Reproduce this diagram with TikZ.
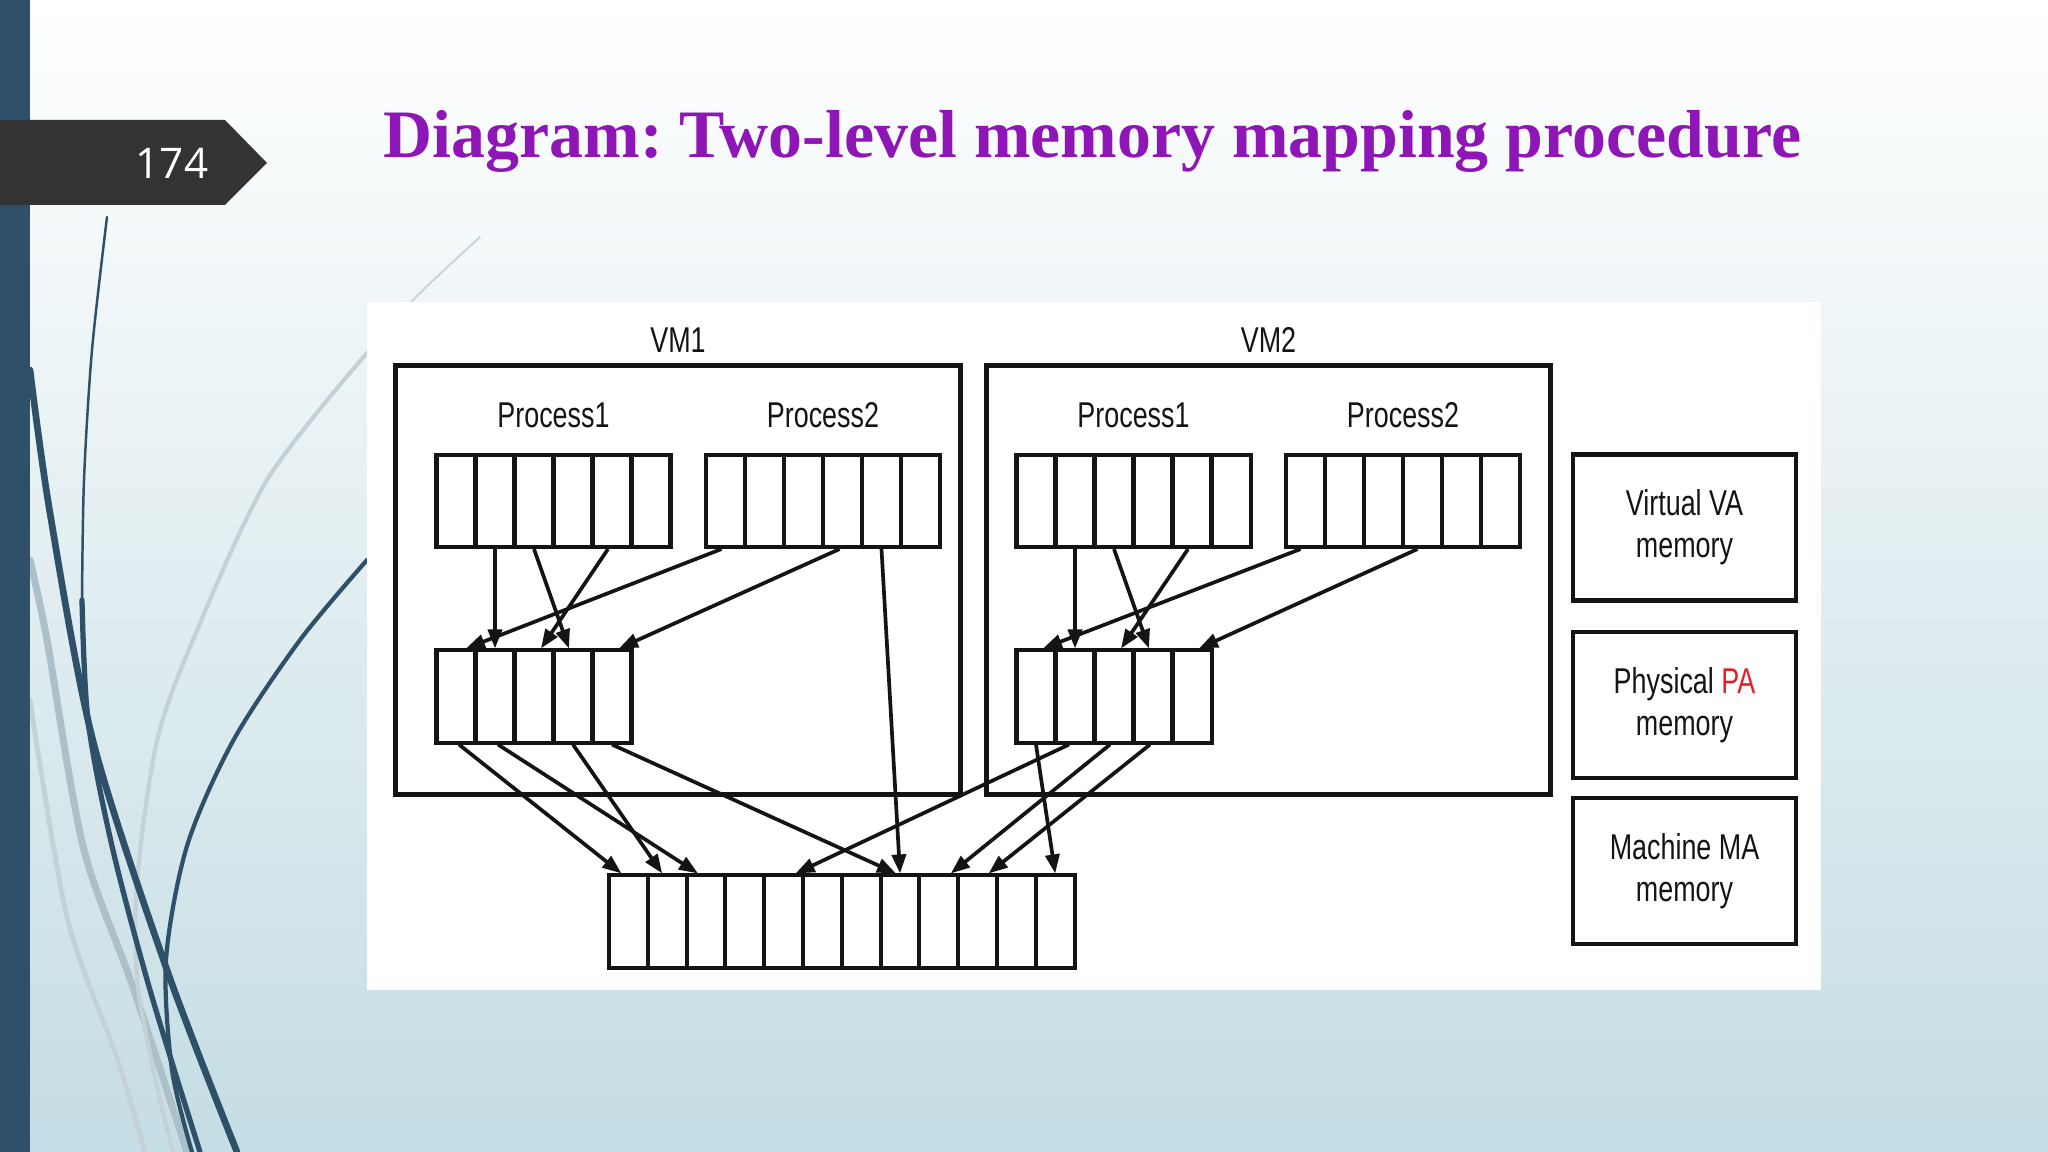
\documentclass[tikz,border=0pt]{standalone}
\usepackage{fontspec}
\usetikzlibrary{arrows.meta,calc}
\newfontfamily\diagfont{Liberation Sans}[FakeStretch=0.75]
\newfontfamily\titlefont{Liberation Serif}
\newfontfamily\numfont{Open Sans}
\frenchspacing
\definecolor{barblue}{RGB}{46,80,104}
\definecolor{tabgray}{RGB}{51,51,51}
\definecolor{titlepurple}{RGB}{142,22,182}
\definecolor{bgblue}{RGB}{197,221,228}
\definecolor{bgmid}{RGB}{226,237,241}
\definecolor{wispgray}{RGB}{172,192,201}
\definecolor{wisplight}{RGB}{196,210,216}
\definecolor{inkblack}{RGB}{20,20,20}
\definecolor{pared}{RGB}{230,30,40}
\tikzset{
  cell/.style={draw=inkblack, line width=1.15pt, minimum width=0.39cm, minimum height=0.92cm, inner sep=0pt},
  mcell/.style={cell, minimum width=0.388cm},
  vmbox/.style={draw=inkblack, line width=1.4pt, minimum width=5.64cm, minimum height=4.28cm, inner sep=0pt},
  keybox/.style={draw=inkblack, line width=1.3pt, minimum width=2.23cm, minimum height=1.46cm, align=center, font=\diagfont\fontsize{10.2}{12}\selectfont, text=inkblack},
  lbl/.style={font=\diagfont\fontsize{10.2}{12}\selectfont, text=inkblack, inner sep=0pt},
  maparrow/.style={draw=inkblack, line width=1.05pt, -{Triangle[length=5.4pt,width=4pt]}},
  wisp/.style={line cap=round}
}
\begin{document}
\begin{tikzpicture}[x=0.01cm,y=-0.01cm]
\useasboundingbox (0,0) rectangle (2048,1152);
% slide background
\shade[top color=white, middle color=bgmid, bottom color=bgblue] (0,0) rectangle (2048,1152);

% wisps
\draw[wisp, wisplight, line width=1.4pt] plot[smooth] coordinates {(30,700) (67,917) (117,1058) (145,1152)};
\draw[wisp, wispgray, line width=2pt] plot[smooth] coordinates {(30,560) (47,640) (83,846) (133,987) (187,1152)};
\draw[wisp, wisplight, line width=0.5pt] plot[smooth] coordinates {(480,237) (415,298) (367,353)};
\draw[wisp, wisplight, line width=1.2pt] plot[smooth] coordinates {(367,353) (267,480) (193,640) (157,741) (137,882) (138,987) (160,1100) (173,1152)};
\draw[wisp, barblue, line width=0.7pt] plot[smooth] coordinates {(107,217) (92,350) (84,480) (82,600)};
\draw[wisp, barblue, line width=1.5pt] plot[smooth] coordinates {(82,600) (88,720) (112,846) (150,990) (200,1152)};
\draw[wisp, barblue, line width=1.9pt] plot[smooth] coordinates {(30,370) (50,513) (93,741) (167,970) (237,1152)};
\draw[wisp, barblue, line width=1.2pt] plot[smooth] coordinates {(367,560) (300,640) (233,741) (187,846) (166,960) (172,1070) (192,1152)};

% side bar and page tab
\fill[barblue] (0,0) rectangle (30,1152);
\fill[tabgray] (0,120) -- (225,120) -- (267,163) -- (225,205) -- (0,205) -- cycle;
\node[font=\numfont\fontsize{12}{14}\selectfont, text=white, inner sep=0pt] (pagenum) at (172,163) {174};

% title
\node[anchor=base west, inner sep=0pt, font=\titlefont\bfseries\fontsize{19.3}{23}\selectfont, text=titlepurple] (title) at (383,158) {Diagram: Two-level memory mapping procedure};

% diagram panel
\fill[white] (367,302) rectangle (1821,990);

% virtual machines
\node[vmbox] (vm1) at (678,580) {};
\node[vmbox] (vm2) at (1268.5,580) {};
\node[lbl] (vm1lab) at (678,340) {VM1};
\node[lbl] (vm2lab) at (1268.5,340) {VM2};
\node[lbl] (vm1p1) at (553.5,415) {Process1};
\node[lbl] (vm1p2) at (823,415) {Process2};
\node[lbl] (vm2p1) at (1133.5,415) {Process1};
\node[lbl] (vm2p2) at (1403,415) {Process2};

% memory cells
\foreach \i in {1,...,6} {
  \node[cell] (v1a\i) at ({417+39*\i},501) {};
  \node[cell] (v1b\i) at ({686.5+39*\i},501) {};
  \node[cell] (v2a\i) at ({997+39*\i},501) {};
  \node[cell] (v2b\i) at ({1266.5+39*\i},501) {};
}
\foreach \i in {1,...,5} {
  \node[cell] (p1c\i) at ({417+39*\i},696.5) {};
  \node[cell] (p2c\i) at ({997+39*\i},696.5) {};
}
\foreach \i in {1,...,12}
  \node[mcell] (m\i) at ({589.6+38.8*\i},921.5) {};

% key
\node[keybox] (vakey) at (1684.5,527.5) {Virtual VA\\memory};
\node[keybox] (pakey) at (1684.5,705) {Physical \textcolor{pared}{PA}\\memory};
\node[keybox] (makey) at (1684.5,871) {Machine MA\\memory};

% VM1: virtual -> physical
\draw[maparrow] (v1a2.south) -- (p1c2.north);
\draw[maparrow] (v1a3.south) -- ($(p1c4.north)+(-4,0)$);
\draw[maparrow] ($(v1a5.south)+(-4,0)$) -- ($(p1c3.north)+(7,0)$);
\draw[maparrow] ($(v1b1.south)+(-4,0)$) -- ($(p1c1.north)+(10,0)$);
\draw[maparrow] ($(v1b4.south)+(-3,0)$) -- ($(p1c5.north)+(7,0)$);
\draw[maparrow] (v1b5.south) -- (m8.north);
% VM1: physical -> machine
\draw[maparrow] ($(p1c1.south)+(3,0)$) -- ($(m1.north)+(-7,0)$);
\draw[maparrow] ($(p1c2.south)+(3,0)$) -- ($(m3.north)+(-8,0)$);
\draw[maparrow] (p1c4.south) -- ($(m2.north)+(-5,0)$);
\draw[maparrow] (p1c5.south) -- ($(m8.north)+(-4,0)$);

% VM2: virtual -> physical
\draw[maparrow] (v2a2.south) -- (p2c2.north);
\draw[maparrow] (v2a3.south) -- ($(p2c4.north)+(-4,0)$);
\draw[maparrow] ($(v2a5.south)+(-4,0)$) -- ($(p2c3.north)+(7,0)$);
\draw[maparrow] ($(v2b1.south)+(-5,0)$) -- ($(p2c1.north)+(7,0)$);
\draw[maparrow] ($(v2b4.south)+(-5,0)$) -- ($(p2c5.north)+(7,0)$);
% VM2: physical -> machine
\draw[maparrow] (p2c1.south) -- (m12.north);
\draw[maparrow] ($(p2c2.south)+(-6,0)$) -- ($(m5.north)+(12,0)$);
\draw[maparrow] ($(p2c3.south)+(-4,0)$) -- ($(m9.north)+(12,0)$);
\draw[maparrow] ($(p2c4.south)+(-3,0)$) -- ($(m10.north)+(11,0)$);
\end{tikzpicture}
\end{document}
